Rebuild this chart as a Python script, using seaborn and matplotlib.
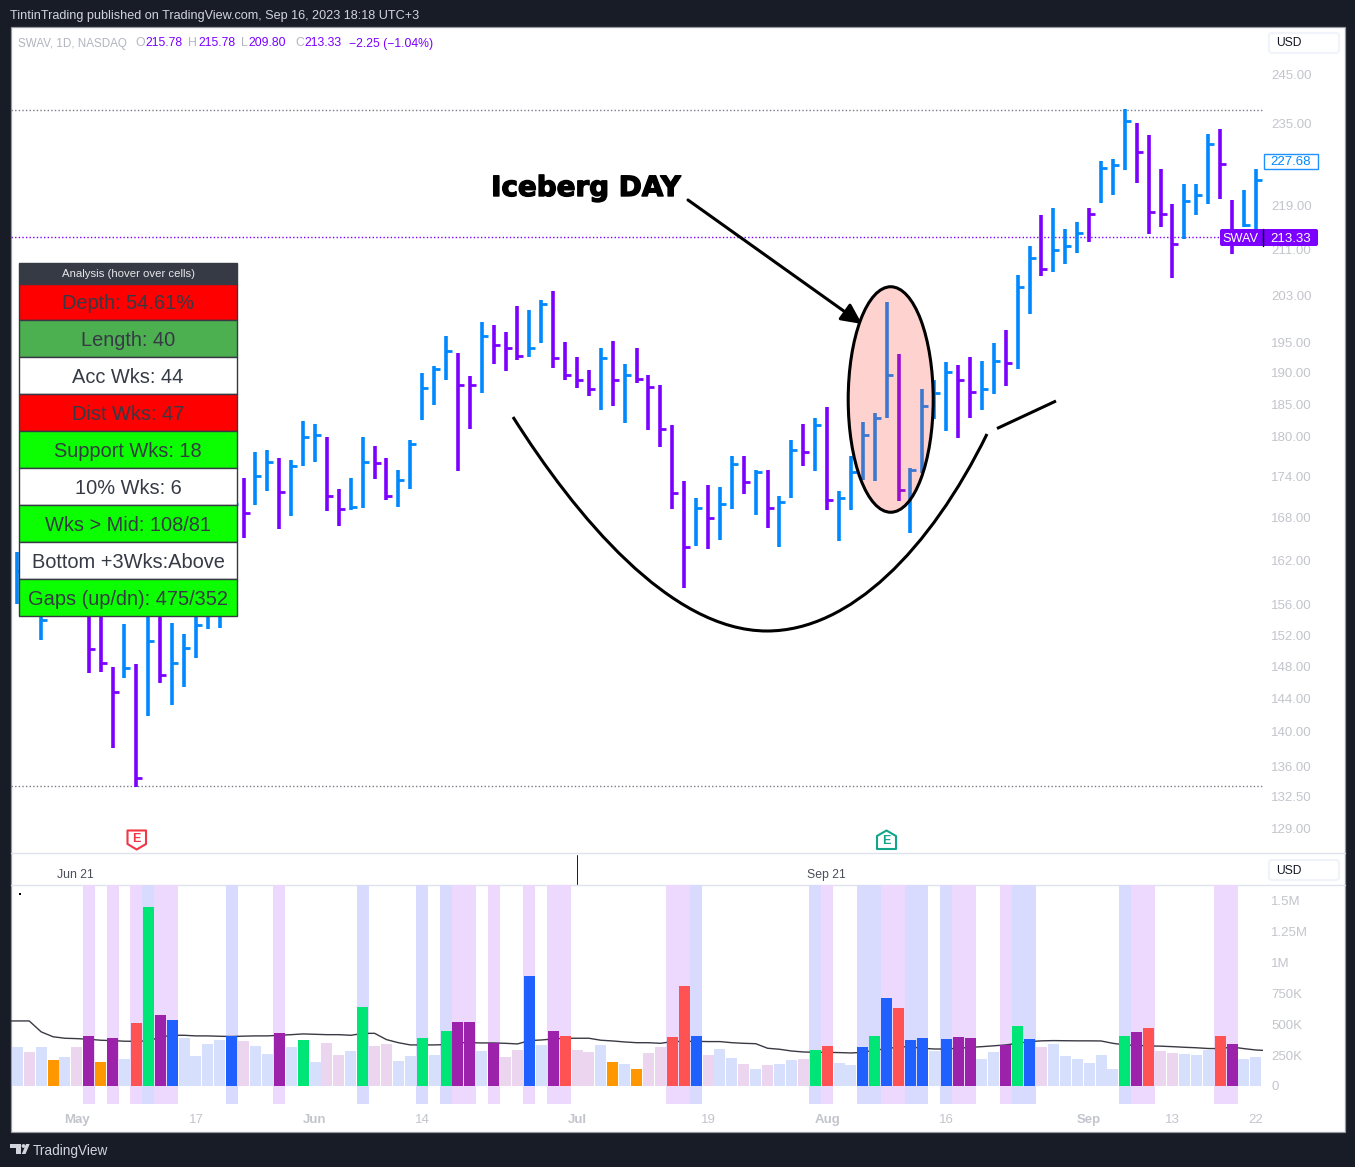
import matplotlib
matplotlib.use('Agg')
import matplotlib.patheffects as pe
import matplotlib.pyplot as plt
import numpy as np
import pandas as pd
import seaborn as sns
from matplotlib.patches import Circle, Ellipse, FancyBboxPatch, PathPatch, Polygon, Rectangle
from matplotlib.path import Path

W, H = 1355, 1167

# daily bars, index 0..104 (first ones sit behind the table, so those are guesses)
price_high = [
    163.1, 165.0, 158.0, 160.0, 161.0, 160.0, 156.6, 156.5, 148.0, 153.5,
    148.3, 156.0, 155.2, 153.6, 152.1, 156.6, 158.0, 159.3, 169.8, 173.7,
    177.6, 178.0, 176.8, 176.5, 182.4, 182.0, 179.9, 172.1, 173.7, 179.9,
    178.6, 176.7, 175.0, 179.4, 190.0, 191.1, 196.1, 193.2, 189.5, 198.5,
    197.9, 196.7, 201.2, 200.5, 202.1, 203.8, 195.1, 192.6, 190.4, 194.1,
    195.2, 191.4, 194.1, 189.6, 188.0, 181.7, 173.3, 170.8, 172.7, 172.4,
    177.0, 177.0, 175.0, 174.9, 171.1, 179.4, 182.0, 182.8, 184.5, 171.8,
    177.0, 182.3, 183.7, 201.8, 193.1, 175.3, 187.5, 188.8, 191.8, 191.3,
    192.6, 191.9, 194.9, 197.0, 206.5, 211.6, 217.3, 218.6, 214.7, 216.0,
    218.6, 227.5, 227.9, 237.8, 235.0, 232.6, 226.0, 219.4, 223.1, 223.1,
    232.8, 233.8, 220.1, 222.0, 226.0,
]
price_low = [
    156.1, 156.0, 151.4, 155.0, 155.5, 155.0, 147.2, 147.3, 138.1, 146.6,
    133.6, 141.9, 146.0, 143.2, 145.5, 149.1, 152.8, 152.9, 158.0, 165.1,
    169.8, 171.8, 166.4, 168.3, 175.6, 176.1, 169.0, 166.8, 169.1, 169.4,
    173.6, 170.5, 169.5, 172.1, 182.5, 184.9, 188.9, 174.8, 181.1, 186.8,
    191.5, 190.3, 192.1, 192.6, 194.9, 190.8, 188.9, 187.6, 186.3, 184.1,
    184.7, 182.1, 188.4, 181.0, 178.4, 169.2, 158.3, 164.0, 163.6, 164.8,
    169.2, 171.4, 168.4, 166.5, 163.9, 170.8, 175.5, 174.8, 169.1, 164.7,
    169.1, 173.5, 173.3, 182.9, 170.4, 165.8, 174.5, 182.7, 180.8, 179.8,
    182.9, 184.1, 186.6, 187.9, 190.7, 199.7, 206.3, 207.0, 208.4, 210.4,
    212.4, 219.6, 221.0, 225.9, 223.4, 213.9, 215.2, 206.0, 212.9, 217.4,
    219.4, 220.3, 210.3, 215.2, 214.0,
]
price_close = [
    160.6, 160.0, 154.0, 158.0, 157.0, 156.0, 150.2, 148.4, 144.8, 147.8,
    134.6, 151.3, 147.0, 148.4, 150.3, 153.3, 156.6, 156.9, 170.0, 168.6,
    174.1, 176.1, 171.7, 175.5, 179.9, 180.2, 171.1, 169.2, 169.5, 176.1,
    176.0, 171.1, 173.4, 178.8, 187.6, 190.6, 193.6, 188.1, 188.0, 196.1,
    194.5, 194.0, 192.7, 194.0, 201.4, 192.4, 189.6, 188.9, 187.5, 192.4,
    188.8, 189.6, 189.1, 187.8, 181.2, 171.5, 163.9, 169.4, 168.0, 170.0,
    175.9, 173.2, 174.6, 169.4, 170.2, 177.9, 177.6, 181.8, 170.5, 170.8,
    174.6, 180.2, 182.8, 189.7, 172.0, 175.0, 184.8, 186.8, 190.2, 188.9,
    187.0, 187.5, 191.9, 191.6, 204.5, 209.6, 207.5, 210.9, 211.7, 214.1,
    217.6, 226.1, 226.7, 235.5, 229.2, 217.8, 217.5, 212.1, 220.0, 221.0,
    230.9, 226.9, 212.1, 215.4, 223.8,
]
purple_bars = [6, 7, 8, 10, 12, 19, 22, 26, 27, 30, 31, 37, 38, 40, 41, 42, 45, 46, 47, 48,
               50, 52, 53, 54, 55, 56, 58, 61, 63, 66, 68, 74, 79, 80, 83, 86, 90, 94, 95,
               96, 97, 101, 102]

price_ticks = [245, 235, 219, 211, 203, 195, 190, 185, 180, 174, 168, 162, 156, 152, 148,
               144, 140, 136, 132.5, 129]
level_high = 237.7
level_last = 213.33
level_low = 133.7

# volume in thousands
volume_k = [
    315, 275, 315, 210, 235, 315, 405, 194, 388, 218,
    510, 1448, 574, 534, 388, 243, 340, 372, 405, 364,
    324, 259, 429, 315, 372, 194, 348, 251, 283, 639,
    324, 340, 202, 243, 388, 251, 445, 518, 518, 283,
    348, 235, 291, 890, 332, 445, 405, 291, 275, 332,
    194, 178, 138, 267, 315, 396, 809, 405, 251, 299,
    227, 178, 138, 170, 178, 210, 218, 291, 324, 186,
    170, 315, 405, 712, 631, 372, 388, 283, 380, 396,
    388, 218, 275, 332, 485, 380, 315, 340, 243, 218,
    186, 251, 138, 405, 437, 469, 283, 267, 259, 251,
    291, 405, 340, 218, 235,
]
volume_kind = list(
    'LPLOLPVOVLRGVBLLLLBPLLVLGLPPLGPPLLGLGVVLVPPBLVRPPLOLOPPRRBPLLPLPLLPGRLLBGBRBBLBVVLLVGBPLLLLLLGVRPPLLLRVLL'
)
# the average runs edge to edge of the pane, hence the two extra x positions
ma_idx = [-0.53] + list(range(105)) + [104.6]
ma_volume_k = [
    526, 526, 526, 438, 398, 386, 383, 378, 370, 367, 362,
    361, 365, 395, 410, 410, 405, 405, 402, 400, 403,
    405, 405, 410, 415, 421, 418, 415, 415, 410, 425,
    426, 375, 350, 332, 332, 332, 335, 350, 350, 348,
    348, 345, 340, 367, 372, 380, 386, 386, 386, 370,
    364, 356, 350, 350, 345, 359, 361, 361, 359, 359,
    350, 345, 342, 305, 297, 283, 275, 272, 272, 270,
    267, 272, 291, 299, 318, 316, 305, 299, 299, 305,
    312, 318, 325, 332, 345, 359, 365, 367, 366, 365,
    365, 364, 345, 332, 328, 324, 322, 318, 313, 309,
    303, 302, 315, 302, 291, 288,
]
stripes_purple = [6, 8, 10, 12, 13, 22, 37, 38, 40, 43, 45, 46, 55, 56, 68, 73, 74, 79, 80, 83,
                  94, 95, 101, 102]
stripes_blue = [11, 18, 29, 34, 36, 57, 67, 71, 72, 75, 76, 78, 84, 85, 93]

volume_ticks = [1500, 1250, 1000, 750, 500, 250, 0]
volume_tick_labels = ['1.5M', '1.25M', '1M', '750K', '500K', '250K', '0']

date_idx = [5, 15, 25, 34, 47, 58, 68, 78, 90, 97, 104]
date_labels = ['May', '17', 'Jun', '14', 'Jul', '19', 'Aug', '16', 'Sep', '13', '22']
months = {'May', 'Jun', 'Jul', 'Aug', 'Sep'}

table_rows = ['Depth: 54.61%', 'Length: 40', 'Acc Wks: 44', 'Dist Wks: 47', 'Support Wks: 18',
              '10% Wks: 6', 'Wks > Mid: 108/81', 'Bottom +3Wks:Above', 'Gaps (up/dn): 475/352']
table_colors = ['#ff0000', '#4caf50', '#ffffff', '#ff0000', '#0cff00', '#ffffff', '#0cff00',
                '#ffffff', '#0cff00']

BLUE = '#0088ff'
PURPLE = '#7b00ff'
GREY = '#c3c5cc'
DARK = '#363a45'
BG = '#181c27'
kind_colors = {'L': '#d6e0fd', 'P': '#ecd5ee', 'O': '#ff9800', 'R': '#ff5252', 'G': '#00e676',
               'V': '#9c22ab', 'B': '#2060ff'}

sns.set_theme(style='white')
plt.rcParams['font.family'] = ['Liberation Sans', 'DejaVu Sans']

fig = plt.figure(figsize=(W / 100, H / 100), dpi=100, facecolor=BG)


def pane(left, top, right, bottom, **kw):
    return fig.add_axes([left / W, 1 - bottom / H, (right - left) / W, (bottom - top) / H], **kw)


# white chart frame behind everything
back = pane(0, 0, W, H, zorder=0)
back.set_xlim(0, W)
back.set_ylim(H, 0)
back.axis('off')
back.add_patch(Rectangle((10.5, 27), 1334.5, 1105, fc='white', ec='#9598a1', lw=0.9))
back.plot([11, 1345], [853, 853], color='#e0e3eb', lw=1)
back.plot([11, 1345], [884.5, 884.5], color='#e0e3eb', lw=1)
back.plot([576.5, 576.5], [855, 884], color='#222222', lw=0.72)

# price pane
ax = pane(11, 28, 1263, 853, zorder=1)
ax.patch.set_alpha(0)
idx = np.arange(len(price_high))
bar_colors = [PURPLE if i in purple_bars else BLUE for i in idx]
ax.vlines(idx, price_low, price_high, colors=bar_colors, lw=2.6, capstyle='butt', zorder=3)
ax.hlines(price_close, idx, idx + 0.5, colors=bar_colors, lw=2, zorder=3)
ax.hlines([level_high, level_low], -0.53, 104.6, colors='#787b86', lw=1, linestyles=(0, (1, 1.6)))
ax.hlines(level_last, -0.53, 104.6, colors=PURPLE, lw=1, linestyles=(0, (1, 1.6)))
ax.set_yscale('log')
ax.set_xlim(-0.53, 104.6)
ax.set_ylim(126.3, 254.8)
ax.yaxis.tick_right()
ax.minorticks_off()
ax.set_yticks(price_ticks)
ax.set_yticklabels([f'{t:.2f}' for t in price_ticks], color=GREY, fontsize=9.5)
ax.set_xticks([])
ax.tick_params(axis='y', length=0, pad=6)
sns.despine(ax=ax, left=True, bottom=True, right=True, top=True)

# volume pane
vol_df = pd.DataFrame({'idx': idx, 'volume': volume_k, 'kind': volume_kind})
ma_df = pd.DataFrame({'idx': ma_idx, 'ma': ma_volume_k})
vax = pane(11, 885, 1263, 1104, zorder=1)
vax.patch.set_alpha(0)
for i in stripes_purple:
    vax.axvspan(i - 0.5, i + 0.5, color='#ecd9fd', lw=0, zorder=1)
for i in stripes_blue:
    vax.axvspan(i - 0.5, i + 0.5, color='#d8dbfd', lw=0, zorder=1)
sns.lineplot(data=ma_df, x='idx', y='ma', color='#3a3a44', linewidth=1, errorbar=None, ax=vax,
             zorder=2)
sns.barplot(data=vol_df, x='idx', y='volume', hue='kind', palette=kind_colors, dodge=False,
            native_scale=True, width=0.92, saturation=1, legend=False, linewidth=0, ax=vax,
            zorder=3)
vax.set_xlim(-0.53, 104.6)
vax.set_ylim(-146, 1626)
vax.set_xlabel('')
vax.set_ylabel('')
vax.yaxis.tick_right()
vax.set_yticks(volume_ticks)
vax.set_yticklabels(volume_tick_labels, color=GREY, fontsize=9.5)
vax.set_xticks(date_idx)
vax.set_xticklabels(date_labels, color=GREY, fontsize=9.5)
for lab in vax.get_xticklabels():
    if lab.get_text() in months:
        lab.set_fontweight('bold')
vax.tick_params(axis='both', length=0)
vax.tick_params(axis='y', pad=6)
vax.tick_params(axis='x', pad=7)
sns.despine(ax=vax, left=True, bottom=True, right=True, top=True)

# everything else sits on a pixel-sized overlay
deco = pane(0, 0, W, H, zorder=5)
deco.set_xlim(0, W)
deco.set_ylim(H, 0)
deco.axis('off')
deco.patch.set_alpha(0)


def label(x, y, s, color=DARK, size=8.7, ha='left', **kw):
    deco.text(x, y, s, color=color, fontsize=size, ha=ha, va='center', **kw)


label(10, 15.5, 'TintinTrading published on TradingView.com, Sep 16, 2023 18:18 UTC+3',
      color='#d1d4dc', size=9.05)
label(18, 43.5, 'SWAV, 1D, NASDAQ', color='#b2b5be', size=8.4)
for x, s, c in [(135, 'O', '#b2b5be'), (145, '215.78', PURPLE), (188, 'H', '#b2b5be'),
                (198, '215.78', PURPLE), (241, 'L', '#b2b5be'), (248, '209.80', PURPLE),
                (295, 'C', '#b2b5be'), (304.5, '213.33', PURPLE), (349, '−2.25 (−1.04%)', PURPLE)]:
    label(x, 43.5, s, color=c, size=8.8)

for top in (31, 858):
    deco.add_patch(FancyBboxPatch((1269, top + 2), 70, 20, boxstyle='round,pad=0,rounding_size=3',
                                  fc='white', ec='#f0f3fa', lw=1.5, mutation_aspect=1))
    label(1276, top + 12.5, 'USD', color='#131722', size=8.7)

label(75, 875, 'Jun 21', ha='center', color='#4a4e59', size=8.8)
label(826, 875, 'Sep 21', ha='center', color='#4a4e59', size=8.8)
deco.add_patch(Rectangle((19, 893), 2, 2, fc='black', ec='none'))

# price tags
deco.add_patch(Rectangle((1263.5, 153.5), 54, 15.5, fc='white', ec='#1e90ff', lw=1))
label(1291, 162, '227.68', color=BLUE, size=9.5, ha='center')
deco.add_patch(FancyBboxPatch((1221, 230), 96, 15, boxstyle='round,pad=1,rounding_size=2',
                              fc=PURPLE, ec='none'))
deco.plot([1262.5, 1262.5], [229, 246], color='black', lw=1)
label(1240, 238.5, 'SWAV', color='white', size=9.2, ha='center')
label(1291, 238.5, '213.33', color='white', size=9.5, ha='center')

# earnings marks
deco.add_patch(Polygon([(127.5, 830.5), (146, 830.5), (146, 844), (136.7, 849.5), (127.5, 844)],
                       fc='white', ec='#f23645', lw=1.5, joinstyle='round'))
label(136.7, 839.5, 'E', color='#f23645', size=9, ha='center', fontweight='bold')
deco.add_patch(Polygon([(877, 836), (886.5, 830.5), (896, 836), (896, 849), (877, 849)],
                       fc='white', ec='#12a58c', lw=1.5, joinstyle='round'))
label(886.5, 841, 'E', color='#12a58c', size=9, ha='center', fontweight='bold')

# drawings
deco.add_patch(Ellipse((890.7, 399.5), 85, 225.5, fc=(254 / 255, 70 / 255, 50 / 255, 0.24),
                       ec='black', lw=2.2))
cup = Path([(513, 417), (575, 515), (670, 631), (767, 631), (850, 631), (930, 550), (987, 434)],
           [Path.MOVETO, Path.CURVE4, Path.CURVE4, Path.CURVE4, Path.CURVE4, Path.CURVE4,
            Path.CURVE4])
deco.add_patch(PathPatch(cup, fc='none', ec='black', lw=2.2, capstyle='butt'))
deco.plot([997, 1056], [428.5, 401], color='black', lw=2.2, solid_capstyle='butt')
deco.annotate('', xy=(862, 324), xytext=(688, 200),
              arrowprops=dict(arrowstyle='-|>,head_length=0.62,head_width=0.3', color='black', lw=2.2,
                              shrinkA=0, shrinkB=0, mutation_scale=20))
deco.text(586, 188, 'Iceberg DAY', family='DejaVu Sans', fontweight='bold', fontsize=20,
          color='black', ha='center', va='center',
          path_effects=[pe.withStroke(linewidth=1.0, foreground='black')])

# analysis table
edges = [284, 320.4, 357.4, 394.4, 431.4, 468.4, 505.3, 542.3, 579.3, 616.3]
deco.add_patch(Rectangle((19, 263), 218, 21, fc=DARK, ec=DARK, lw=1))
label(128, 274, 'Analysis (hover over cells)', color='#e6e7ea', size=8.2, ha='center')
for text, color, y0, y1 in zip(table_rows, table_colors, edges[:-1], edges[1:]):
    deco.add_patch(Rectangle((19.2, y0), 217.6, y1 - y0, fc=color, ec=DARK, lw=1))
    label(128, (y0 + y1) / 2 + 1.5, text, color=DARK, size=14.4, ha='center')

# footer logo
deco.add_patch(Polygon([(10, 1144), (20.5, 1144), (20.5, 1154), (16, 1154), (16, 1147.8), (10, 1147.8)],
                       fc='#d1d4dc', ec='none'))
deco.add_patch(Circle((23.5, 1146), 1.9, fc='#d1d4dc', ec='none'))
deco.add_patch(Polygon([(26, 1144), (29.7, 1144), (25.5, 1154), (21.8, 1154)], fc='#d1d4dc', ec='none'))
label(33, 1150.5, 'TradingView', color='#d1d4dc', size=9.8)

fig.savefig('out.png', dpi=100, facecolor=BG)
